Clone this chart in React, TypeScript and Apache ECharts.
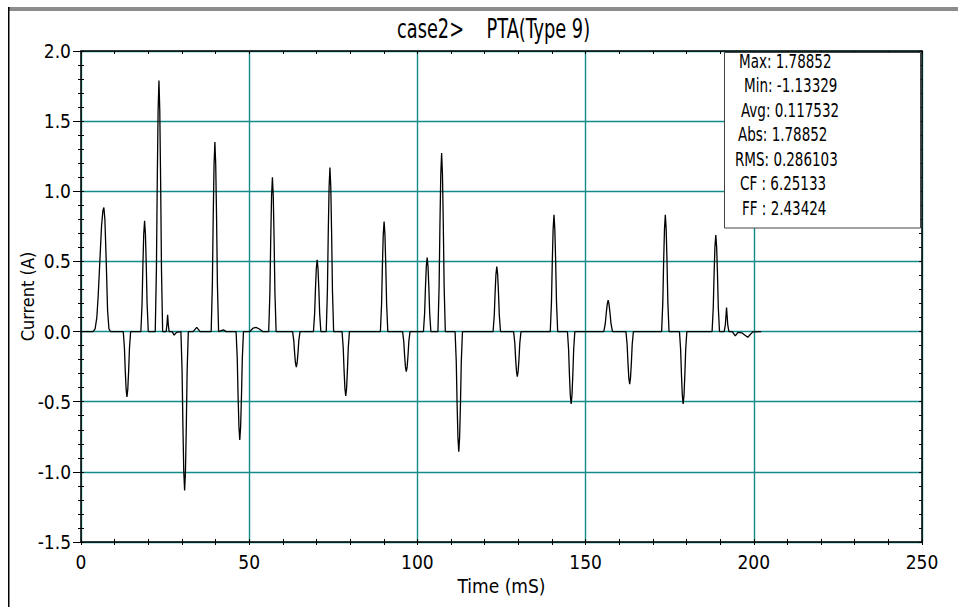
import React, { useEffect, useRef } from "react";
import * as echarts from "echarts";

// ---- data ----
const chartTitle = "case2>    PTA(Type 9)";
const xAxisName = "Time (mS)";
const yAxisName = "Current (A)";

const xMin = 0;
const xMax = 250;
const xStep = 50;
const yMin = -1.5;
const yMax = 2.0;
const yStep = 0.5;

// time (ms) of each sample, one line per pulse
const timeMs: number[] = [
  0,
  3.6, 4.2, 4.7, 5.1, 5.6, 6.1, 6.5, 6.8, 7.1, 7.5, 7.9, 8.3, 8.8,
  12.56, 12.91, 13.16, 13.41, 13.66, 13.91, 14.16, 14.41, 14.76,
  17.8, 18.15, 18.4, 18.65, 18.9, 19.15, 19.4, 19.65, 20.0,
  22.07, 22.42, 22.67, 22.92, 23.17, 23.42, 23.67, 23.92, 24.27,
  25.3, 25.55, 25.75, 25.95, 26.2,
  27.1, 27.7, 28.4,
  29.7, 30.05, 30.3, 30.55, 30.8, 31.05, 31.3, 31.55, 31.9,
  33.3, 34.4, 35.4,
  38.7, 39.05, 39.3, 39.55, 39.8, 40.05, 40.3, 40.55, 40.9,
  42.3, 43.2,
  46.1, 46.45, 46.7, 46.95, 47.2, 47.45, 47.7, 47.95, 48.3,
  50.2, 51.2, 52.0, 52.9, 54.0,
  55.8, 56.15, 56.4, 56.65, 56.9, 57.15, 57.4, 57.65, 58.0,
  62.9, 63.25, 63.5, 63.75, 64.0, 64.25, 64.5, 64.75, 65.1,
  69.1, 69.45, 69.7, 69.95, 70.2, 70.45, 70.7, 70.95, 71.3,
  72.9, 73.25, 73.5, 73.75, 74.0, 74.25, 74.5, 74.75, 75.1,
  77.6, 77.95, 78.2, 78.45, 78.7, 78.95, 79.2, 79.45, 79.8,
  89.0, 89.35, 89.6, 89.85, 90.1, 90.35, 90.6, 90.85, 91.2,
  95.6, 95.95, 96.2, 96.45, 96.7, 96.95, 97.2, 97.45, 97.8,
  101.8, 102.15, 102.4, 102.65, 102.9, 103.15, 103.4, 103.65, 104.0,
  106.1, 106.45, 106.7, 106.95, 107.2, 107.45, 107.7, 107.95, 108.3,
  111.2, 111.55, 111.8, 112.05, 112.3, 112.55, 112.8, 113.05, 113.4,
  122.5, 122.85, 123.1, 123.35, 123.6, 123.85, 124.1, 124.35, 124.7,
  128.6, 128.95, 129.2, 129.45, 129.7, 129.95, 130.2, 130.45, 130.8,
  139.5, 139.85, 140.1, 140.35, 140.6, 140.85, 141.1, 141.35, 141.7,
  144.6, 144.95, 145.2, 145.45, 145.7, 145.95, 146.2, 146.45, 146.8,
  155.4, 155.85, 156.15, 156.45, 156.7, 156.95, 157.25, 157.55, 158.0,
  162.0, 162.35, 162.6, 162.85, 163.1, 163.35, 163.6, 163.85, 164.2,
  172.6, 172.95, 173.2, 173.45, 173.7, 173.95, 174.2, 174.45, 174.8,
  177.9, 178.25, 178.5, 178.75, 179.0, 179.25, 179.5, 179.75, 180.1,
  187.6, 187.95, 188.2, 188.45, 188.7, 188.95, 189.2, 189.45, 189.8,
  191.2, 191.55, 191.75, 191.9, 192.05, 192.25, 192.6,
  193.6, 194.5, 195.3, 196.5, 198.2, 199.7, 202.2,
];

// current (A) of each sample, same line layout as timeMs
const currentA: number[] = [
  0,
  0, 0.02, 0.1, 0.25, 0.5, 0.75, 0.86, 0.884, 0.8, 0.5, 0.15, 0.02, 0,
  0, -0.117, -0.28, -0.41, -0.466, -0.41, -0.28, -0.117, 0,
  0, 0.198, 0.474, 0.695, 0.79, 0.695, 0.474, 0.198, 0,
  0, 0.447, 1.073, 1.574, 1.789, 1.574, 1.073, 0.447, 0,
  0, 0.05, 0.12, 0.05, 0,
  0, -0.025, -0.005,
  0, -0.283, -0.68, -0.997, -1.133, -0.997, -0.68, -0.283, 0,
  0, 0.03, 0,
  0, 0.338, 0.811, 1.189, 1.351, 1.189, 0.811, 0.338, 0,
  0.012, 0,
  0, -0.193, -0.463, -0.679, -0.772, -0.679, -0.463, -0.193, 0,
  0, 0.025, 0.03, 0.02, 0,
  0, 0.275, 0.66, 0.968, 1.1, 0.968, 0.66, 0.275, 0,
  0, -0.064, -0.152, -0.224, -0.254, -0.224, -0.152, -0.064, 0,
  0, 0.128, 0.307, 0.45, 0.511, 0.45, 0.307, 0.128, 0,
  0, 0.293, 0.702, 1.03, 1.17, 1.03, 0.702, 0.293, 0,
  0, -0.115, -0.275, -0.404, -0.459, -0.404, -0.275, -0.115, 0,
  0, 0.196, 0.471, 0.691, 0.785, 0.691, 0.471, 0.196, 0,
  0, -0.072, -0.172, -0.252, -0.286, -0.252, -0.172, -0.072, 0,
  0, 0.132, 0.317, 0.465, 0.528, 0.465, 0.317, 0.132, 0,
  0, 0.318, 0.763, 1.119, 1.272, 1.119, 0.763, 0.318, 0,
  0, -0.214, -0.514, -0.753, -0.856, -0.753, -0.514, -0.214, 0,
  0, 0.116, 0.278, 0.408, 0.464, 0.408, 0.278, 0.116, 0,
  0, -0.08, -0.193, -0.282, -0.321, -0.282, -0.193, -0.08, 0,
  0, 0.208, 0.499, 0.732, 0.832, 0.732, 0.499, 0.208, 0,
  0, -0.129, -0.31, -0.454, -0.516, -0.454, -0.31, -0.129, 0,
  0, 0.056, 0.134, 0.197, 0.224, 0.197, 0.134, 0.056, 0,
  0, -0.094, -0.225, -0.33, -0.375, -0.33, -0.225, -0.094, 0,
  0, 0.208, 0.499, 0.732, 0.832, 0.732, 0.499, 0.208, 0,
  0, -0.129, -0.31, -0.454, -0.516, -0.454, -0.31, -0.129, 0,
  0, 0.172, 0.413, 0.605, 0.688, 0.605, 0.413, 0.172, 0,
  0, 0.05, 0.12, 0.171, 0.12, 0.05, 0,
  0, -0.03, -0.005, -0.01, -0.04, -0.002, 0,
];

const statLabels = ["Max:", "Min:", "Avg:", "Abs:", "RMS:", "CF :", "FF :"];
const statValues = ["1.78852", "-1.13329", "0.117532", "1.78852", "0.286103", "6.25133", "2.43424"];

// ---- layout / style ----
const FONT = "'Liberation Sans Narrow', 'DejaVu Sans Condensed', 'Arial Narrow', sans-serif";
const TEAL = "#138a8a";
const statX = [739, 744, 741, 738, 735, 740, 742];
const statTop = 61;
const statGap = 24.5;

export default function App() {
  const ref = useRef<HTMLDivElement>(null);

  useEffect(() => {
    if (!ref.current) return;
    const chart = echarts.init(ref.current, undefined, { renderer: "svg" });

    const data = timeMs.map((t, i) => [t, currentA[i]]);

    const tickStyle = { color: "#000", width: 1 };
    const baseX = {
      type: "value" as const,
      min: xMin,
      max: xMax,
      interval: xStep,
      gridIndex: 0,
      splitLine: { show: false },
    };
    const baseY = {
      type: "value" as const,
      min: yMin,
      max: yMax,
      interval: yStep,
      gridIndex: 0,
      splitLine: { show: false },
    };

    const statTexts = statLabels.map((lab, i) => ({
      type: "text",
      x: statX[i],
      y: statTop + i * statGap,
      scaleX: 0.79,
      z: 11,
      style: {
        text: `${lab} ${statValues[i]}`,
        fill: "#000",
        fontSize: 19,
        fontFamily: FONT,
        verticalAlign: "middle",
        align: "left",
      },
    }));

    chart.setOption({
      animation: false,
      backgroundColor: "#fff",
      grid: {
        left: 81,
        top: 51,
        right: 36,
        bottom: 65,
        containLabel: false,
        outerBoundsMode: "none",
      },
      xAxis: [
        {
          ...baseX,
          position: "bottom",
          name: xAxisName,
          nameLocation: "middle",
          nameGap: 34,
          nameMoveOverlap: false,
          nameTextStyle: { fontSize: 19, fontFamily: FONT, color: "#000" },
          axisLine: { show: true, onZero: false, lineStyle: { color: "#000", width: 1.5 } },
          axisTick: { show: true, inside: true, length: 3, lineStyle: tickStyle },
          minorTick: { show: true, splitNumber: 5, length: 3, lineStyle: tickStyle },
          axisLabel: { color: "#000", fontSize: 19, fontFamily: FONT, margin: 10 },
          splitLine: { show: true, lineStyle: { color: TEAL, width: 1.4 } },
        },
        {
          ...baseX,
          position: "bottom",
          axisLine: { show: false, onZero: false },
          axisTick: { show: true, inside: false, length: 3, lineStyle: tickStyle },
          minorTick: { show: true, splitNumber: 5, length: 3, lineStyle: tickStyle },
          axisLabel: { show: false },
        },
        {
          ...baseX,
          position: "top",
          axisLine: { show: true, onZero: false, lineStyle: { color: "#000", width: 1.5 } },
          axisTick: { show: true, inside: true, length: 3, lineStyle: tickStyle },
          minorTick: { show: true, splitNumber: 5, length: 3, lineStyle: tickStyle },
          axisLabel: { show: false },
        },
      ],
      yAxis: [
        {
          ...baseY,
          position: "left",
          name: yAxisName,
          nameLocation: "middle",
          nameGap: 45,
          nameMoveOverlap: false,
          nameTextStyle: { fontSize: 18, fontFamily: FONT, color: "#000" },
          axisLine: { show: true, onZero: false, lineStyle: { color: "#000", width: 1.5 } },
          axisTick: { show: true, inside: false, length: 8, lineStyle: tickStyle },
          minorTick: { show: true, splitNumber: 5, length: 3, lineStyle: tickStyle },
          axisLabel: {
            color: "#000",
            fontSize: 19,
            fontFamily: FONT,
            margin: 10,
            formatter: (v: number) => v.toFixed(1),
          },
          splitLine: { show: true, lineStyle: { color: TEAL, width: 1.4 } },
        },
        {
          ...baseY,
          position: "left",
          axisLine: { show: false, onZero: false },
          axisTick: { show: true, inside: true, length: 3, lineStyle: tickStyle },
          minorTick: { show: true, splitNumber: 5, length: 3, lineStyle: tickStyle },
          axisLabel: { show: false },
        },
        {
          ...baseY,
          position: "right",
          axisLine: { show: true, onZero: false, lineStyle: { color: "#000", width: 1.5 } },
          axisTick: { show: true, inside: true, length: 3, lineStyle: tickStyle },
          minorTick: { show: true, splitNumber: 5, length: 3, lineStyle: tickStyle },
          axisLabel: { show: false },
        },
      ],
      series: [
        {
          type: "line",
          name: "PTA",
          xAxisIndex: 0,
          yAxisIndex: 0,
          data,
          showSymbol: false,
          symbol: "none",
          lineStyle: { color: "#000", width: 1.3 },
          z: 5,
        },
      ],
      graphic: [
        {
          type: "rect",
          z: 10,
          shape: { x: 8, y: 7, width: 950, height: 4 },
          style: { fill: "#8c8c8c" },
        },
        {
          type: "rect",
          z: 10,
          shape: { x: 8, y: 7, width: 1.5, height: 600 },
          style: { fill: "#000" },
        },
        {
          type: "text",
          x: 397,
          y: 29,
          scaleX: 0.76,
          z: 10,
          style: {
            text: chartTitle,
            fill: "#000",
            fontSize: 26,
            fontFamily: FONT,
            verticalAlign: "middle",
            align: "left",
          },
        },
        {
          type: "rect",
          z: 10,
          shape: { x: 724.5, y: 52.5, width: 196, height: 175.5 },
          style: { fill: "#fff", stroke: "#444", lineWidth: 1 },
        },
        ...statTexts,
      ],
    });

    return () => chart.dispose();
  }, []);

  return (
    <div
      ref={ref}
      style={{ position: "absolute", left: 0, top: 0, width: 958, height: 607, background: "#fff" }}
    />
  );
}
